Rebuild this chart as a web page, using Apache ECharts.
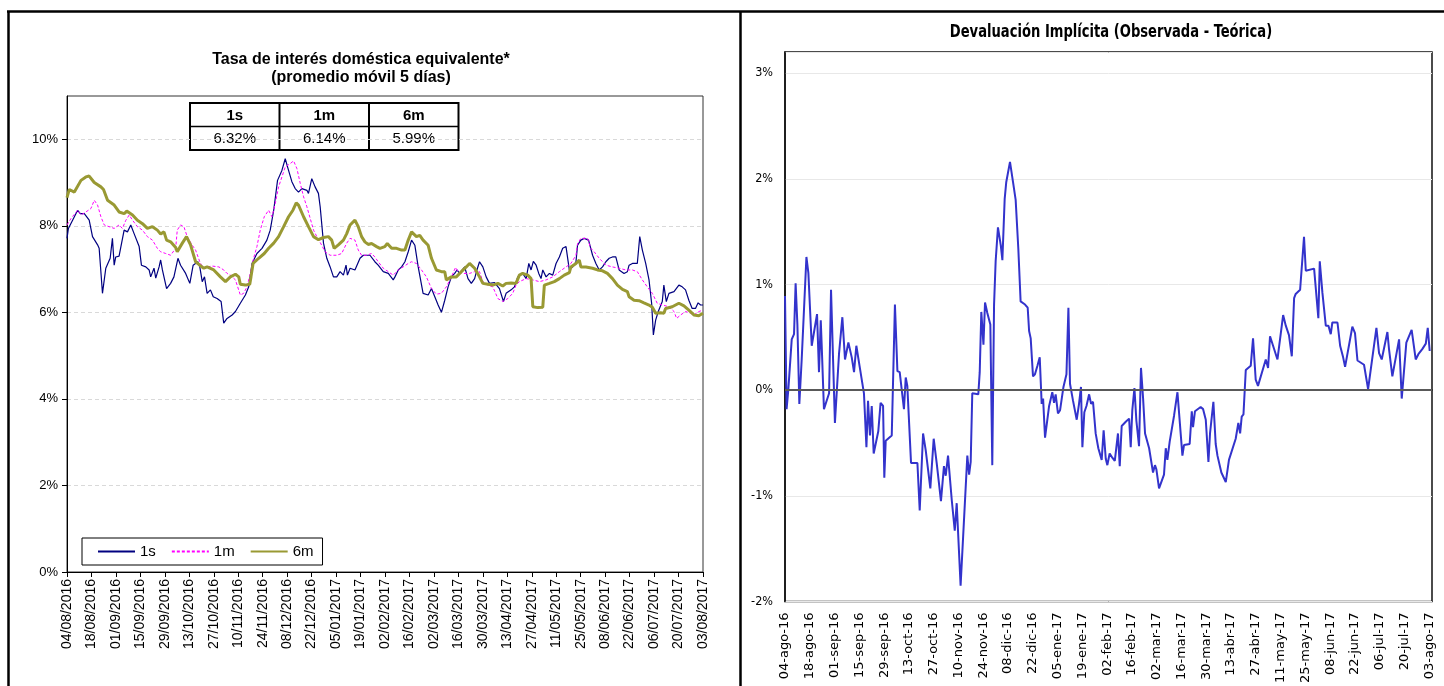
<!DOCTYPE html>
<html>
<head>
<meta charset="utf-8">
<script src="https://cdn.jsdelivr.net/npm/echarts@6/dist/echarts.min.js"></script>
<style>
html,body{margin:0;padding:0;background:#fff;}
#c{width:1444px;height:686px;}
</style>
</head>
<body>
<div id="c"></div>
<script>
// ---------- Left chart: Tasa de interés doméstica equivalente ----------
// x = days since 04/08/2016, y = rate in %
const leftTickLabels = ['04/08/2016','18/08/2016','01/09/2016','15/09/2016','29/09/2016','13/10/2016','27/10/2016','10/11/2016','24/11/2016','08/12/2016','22/12/2016','05/01/2017','19/01/2017','02/02/2017','16/02/2017','02/03/2017','16/03/2017','30/03/2017','13/04/2017','27/04/2017','11/05/2017','25/05/2017','08/06/2017','22/06/2017','06/07/2017','20/07/2017','03/08/2017'];
const leftYTicks = [0,2,4,6,8,10];

const tableHeaders = ['1s','1m','6m'];
const tableValues = ['6.32%','6.14%','5.99%'];

const d1s = [0,0.8,3.2,6.1,7.6,9.9,12.7,14.6,17.5,18.4,20.3,22.2,24.7,26,27,27.9,29.8,32.7,34.6,36.5,38.4,41.3,42.6,45.1,47,47.9,49.8,50.8,52.7,53.6,54.6,57,59.3,61.2,63.5,65,67.9,70.3,72.2,74.9,76,77.4,78.7,80.2,82.1,83.7,85.9,88.2,89.7,91.6,94.5,96.4,99.2,102.1,104,105.9,108.7,111.6,114.4,116.3,118.3,120.5,123,124.9,126.8,128.7,130.6,132.5,134.4,137.3,138.2,140.1,142,143.9,144.9,146.8,148.7,150.6,152.5,154.4,156.3,158.2,159.7,160.5,162,164.8,165.8,167.7,169.6,173.4,176.2,178.1,179.1,181,183.9,186.7,187.7,189.6,191.5,193.4,195.3,197.2,199.1,201,203.8,206.7,208.6,210.5,212.4,214.3,216.2,218.1,220,221.9,223.2,224.7,227.6,229.5,231.4,233.3,234.6,236.1,238,239.9,241.8,244.7,247.5,249.8,251.3,254.2,256.1,258,260.8,262.8,264.3,265.6,266.9,268.5,270,271.3,272.3,274.2,276.1,278,279.9,281.8,283.7,285.6,287.5,289.4,291.3,292.2,294.1,296,298.5,300.8,302.7,304.6,306.5,308.4,310.3,312.2,314.1,316,318.8,320.7,321.7,323.6,326.4,327.8,329.3,331.2,333.1,334.6,335.6,336.9,338.4,340.7,341.6,343,344.5,347.4,350.2,352.1,354,355.9,357.8,359.7,361.2,362.6,364];
const v1s = [7.71,7.94,8.13,8.36,8.28,8.28,8.13,7.75,7.56,7.48,6.44,7.02,7.25,7.71,7.09,7.28,7.3,7.9,7.86,8.02,7.82,7.52,7.09,7.05,6.98,6.82,7.02,6.79,7.05,7.21,6.98,6.55,6.67,6.82,7.25,7.09,6.9,6.67,7.09,7.17,7.05,6.71,6.82,6.44,6.52,6.36,6.32,6.25,5.75,5.86,5.94,6.02,6.21,6.4,6.59,7.13,7.36,7.48,7.67,7.9,8.36,9.05,9.28,9.55,9.28,9.02,8.86,8.78,8.86,8.82,8.75,9.09,8.9,8.75,8.44,7.6,7.25,7.05,6.82,6.82,6.94,6.86,7.09,6.86,7.02,6.98,6.94,7.25,7.32,7.32,7.17,7.09,7.05,6.94,6.9,6.75,6.82,6.98,7.05,7.17,7.4,7.67,7.55,7.05,6.44,6.4,6.55,6.36,6.17,6.0,6.28,6.59,6.82,6.9,6.98,6.9,7.05,6.78,6.67,6.78,6.98,7.17,7.05,6.82,6.67,6.69,6.55,6.25,6.44,6.52,6.59,6.82,6.9,6.78,7.13,6.98,7.18,7.09,6.9,6.78,6.98,6.82,6.9,6.86,7.13,7.28,7.48,7.52,6.98,7.05,7.17,7.55,7.67,7.71,7.67,7.32,7.13,6.98,7.05,7.17,7.25,7.28,7.28,6.98,6.9,6.94,7.09,7.13,7.13,7.75,7.44,7.13,6.75,6.21,5.48,5.82,6.02,6.25,6.63,6.25,6.44,6.48,6.63,6.59,6.52,6.28,6.09,6.09,6.22,6.17,6.17];

const d1m = [0,2.3,6.1,8,10.8,13.7,15.6,17.5,19.4,21.3,24.1,27,29.8,31.7,33.7,35.6,37.5,40.3,43.2,46,48.9,51.7,53.6,56.5,59.3,62.2,63.1,65,66.9,68.8,71.7,73.6,76,77.9,80.2,83.1,86.9,89.7,91.6,93.5,96.4,99.2,101.1,103,104.9,106.8,108.7,110.6,112.9,115.4,117.3,119.2,121.1,123,124.9,127.8,129.7,131.6,133.5,135.4,137.3,139.2,141.1,143,145.8,147.7,150.6,154.4,157.2,160.1,162,164.8,166.7,168.6,171.5,174.3,176.2,178.1,179.1,181,183.9,186.7,189.6,192.4,195.3,197.2,200,202.9,205.7,208.6,211.4,214.3,217.1,220,222.4,223.8,226.6,230.4,233.3,236.1,238,240.9,243.7,246.6,249.4,252.3,255.1,257,258.9,262.8,266.6,270.4,274.2,278,281.8,285.6,288.4,291.3,292.2,294.1,297.9,299.8,301.7,304.6,308.4,312.2,316,319.8,323.6,326.4,329.3,332.1,335,337.8,340.7,344.5,347.4,348.9,351.2,354,356.9,358.8,361.6,364];
const v1m = [8.02,8.17,8.36,8.25,8.32,8.4,8.59,8.48,8.21,8.02,7.98,7.94,8.02,7.94,8.13,8.25,8.13,7.98,7.9,7.75,7.67,7.48,7.4,7.36,7.32,7.48,7.9,8.02,7.98,7.75,7.55,7.44,7.17,7.02,7.05,7.07,7.05,6.98,6.9,6.86,6.75,6.4,6.44,6.59,6.9,7.25,7.52,7.9,8.21,8.36,8.21,8.52,8.9,9.13,9.36,9.44,9.5,9.32,8.98,8.67,8.44,8.17,7.9,7.75,7.55,7.4,7.32,7.32,7.36,7.6,7.71,7.67,7.44,7.32,7.32,7.36,7.28,7.17,7.17,7.02,6.94,6.86,6.98,7.05,7.13,7.17,7.13,6.98,6.82,6.55,6.42,6.44,6.59,6.82,7.04,6.94,6.9,6.9,6.94,6.94,6.71,6.63,6.59,6.32,6.25,6.32,6.44,6.63,6.71,6.78,6.75,6.71,6.75,6.82,6.94,7.05,7.13,7.32,7.59,7.71,7.71,7.48,7.4,7.25,7.09,7.05,7.02,6.98,6.98,6.94,6.75,6.59,6.44,6.21,6.17,6.13,6.02,5.86,5.94,6.02,5.98,5.94,6.02,6.05];

const d6m = [0,1.3,4.2,8,10.8,12.7,15.6,19.4,20.9,23.2,27,29.8,32.7,34.2,37.5,40.3,43.2,46,48.9,51.7,53.6,55.5,57,59.3,62.2,63.1,66,68.4,70.7,73.6,76,78.3,80.2,84,87.8,90.7,93.5,96.4,98.3,99.2,102,104.6,105.3,106.5,109.7,112.9,115.4,118.3,121.1,124,126.8,129.3,131.2,132.5,135.4,138.2,141.1,143.9,146.8,149.6,151.5,152.9,155.3,158.2,160.1,162,164.8,166.7,168.6,170.5,172.4,174.3,177.2,179.1,181.9,183.3,185.8,188.6,191.5,193.4,195.3,197.2,200,201.9,203.8,206.7,208.6,211.4,214.3,216.2,217.1,220,222.8,225.7,228.5,230.4,233.3,236.1,238,240.9,243.7,246.6,249.4,251.3,254.2,257,258.9,260.8,263.7,265.6,266.6,269.4,272.3,273.2,276.1,278.9,281.8,284.6,287.5,288.4,291.3,293.2,294.1,297,300.8,303.6,306.5,309.3,312.2,315,317.9,320.7,321.7,324.5,327.4,330.2,333.1,335,336.9,339.7,341.6,342.6,346.4,350.2,353.1,355.9,358.8,361.6,364];
const v6m = [8.65,8.84,8.78,9.05,9.13,9.15,9.0,8.9,8.84,8.59,8.48,8.32,8.28,8.34,8.25,8.13,8.05,7.94,7.98,7.9,7.81,7.86,7.67,7.63,7.5,7.4,7.6,7.75,7.56,7.17,7.09,7.02,7.05,6.98,6.82,6.71,6.82,6.88,6.82,6.65,6.63,6.65,6.82,7.13,7.25,7.36,7.48,7.6,7.75,7.98,8.21,8.36,8.53,8.48,8.21,7.98,7.75,7.68,7.73,7.75,7.67,7.48,7.56,7.67,7.82,8.02,8.13,7.98,7.75,7.63,7.57,7.59,7.52,7.48,7.52,7.59,7.48,7.48,7.44,7.44,7.67,7.86,7.75,7.78,7.67,7.55,7.25,6.98,6.94,6.94,6.75,6.82,6.82,6.94,7.05,7.13,7.02,6.82,6.67,6.65,6.63,6.67,6.61,6.67,6.68,6.67,6.86,6.9,6.86,6.78,6.13,6.11,6.12,6.63,6.67,6.71,6.78,6.86,6.92,7.05,7.13,7.21,7.05,7.05,7.02,6.98,6.96,6.9,6.78,6.63,6.53,6.48,6.36,6.28,6.27,6.22,6.17,6.12,5.98,5.99,5.98,6.09,6.13,6.21,6.15,6.05,5.94,5.92,5.98];

// ---------- Right chart: Devaluación Implícita ----------
const rightTickLabels = ['04-ago-16','18-ago-16','01-sep-16','15-sep-16','29-sep-16','13-oct-16','27-oct-16','10-nov-16','24-nov-16','08-dic-16','22-dic-16','05-ene-17','19-ene-17','02-feb-17','16-feb-17','02-mar-17','16-mar-17','30-mar-17','13-abr-17','27-abr-17','11-may-17','25-may-17','08-jun-17','22-jun-17','06-jul-17','20-jul-17','03-ago-17'];
const rightYTicks = [-2,-1,0,1,2,3];

const dDev = [0,0.9,1.9,3.8,5.1,6,7,8.1,9.4,12.1,13.2,15.1,16.4,18.1,19.2,20.2,20.7,22,24.9,26,28.2,30.5,32.4,33.1,33.9,35.8,37.7,39,40.3,41.4,42.2,43.1,44.6,46,46.9,48,49,50.1,52.7,54,55.4,56.1,56.9,60.3,62.1,63.5,64.8,67.2,68.2,69.1,71.2,74.8,76.1,78,79.5,82.1,84,85.7,88.1,89.8,90.8,92.1,94.2,95.9,97,99.2,103,104,104.9,105.8,109.2,110,110.9,112.1,113,114.3,116,117.1,118.1,119,120.3,121.9,122.8,124.1,125,127.1,128.8,130.3,131.8,133.1,134.1,135.6,137.1,137.9,138.8,140.1,141.2,142.6,143.9,145,145.8,146.9,149.2,151,152,152.9,154.2,155.4,157.3,159,160.1,161,162.7,164.8,166.1,167.2,168,169.1,170.3,171.8,172.9,174,175.5,177,178.9,180,181.2,182.1,183.4,184.9,186.3,188.1,189.1,190.2,192.5,194.4,195.3,196.2,197.4,198.5,200,201.1,202.3,203.4,204.3,205.7,207.9,209,209.8,211.3,214.1,215.1,216,217.3,218.3,219.8,221.7,222.6,224.5,225.4,228.6,229.8,230.5,231.6,234.8,236.2,237.7,238.6,239.2,240.1,242,243.3,244.3,245.2,246.5,249,250.8,254.6,256.1,257.1,258,259,260.3,263.1,264.4,265.9,267.2,271.6,272.9,274,278.2,281.4,282.9,284.7,286.3,287.6,288.5,291,293.2,294.2,298.9,301.3,302.1,303.6,305.5,307,308.3,309.2,312.1,313.6,315.3,316.4,320.5,322,323.4,327.1,329.4,334.1,335.6,337.1,340.3,341.2,343.1,346.9,348.4,351,354,356.3,357.8,360.1,362,363.1,364.2];
const vDev = [0.89,-0.18,0.01,0.48,0.53,1.01,0.62,-0.13,0.28,1.26,1.11,0.42,0.55,0.72,0.17,0.66,0.44,-0.18,-0.03,0.95,-0.31,0.34,0.69,0.69,0.29,0.45,0.31,0.17,0.42,0.41,0.22,0.22,-0.03,-0.54,-0.1,-0.43,-0.15,-0.6,-0.39,-0.12,-0.15,-0.83,-0.48,-0.43,0.81,0.18,0.17,-0.18,0.12,0.04,-0.69,-0.69,-1.14,-0.41,-0.57,-0.93,-0.46,-0.69,-1.05,-0.72,-0.81,-0.62,-1.04,-1.33,-1.07,-1.85,-0.62,-0.8,-0.68,-0.03,-0.04,0.17,0.74,0.43,0.83,0.73,0.62,-0.71,0.81,1.22,1.54,1.37,1.23,1.81,1.97,2.16,1.97,1.8,1.34,0.84,0.85,0.81,0.78,0.56,0.49,0.13,0.15,0.23,0.31,-0.13,-0.08,-0.45,-0.15,-0.02,-0.12,-0.04,-0.22,-0.19,0.03,0.15,0.78,0.06,-0.1,-0.28,-0.13,0.03,-0.54,-0.21,-0.15,-0.04,-0.13,-0.11,-0.41,-0.55,-0.66,-0.38,-0.65,-0.71,-0.6,-0.64,-0.67,-0.41,-0.72,-0.34,-0.3,-0.27,-0.54,-0.19,0.02,-0.29,-0.53,0.21,-0.08,-0.41,-0.42,-0.55,-0.78,-0.71,-0.75,-0.93,-0.8,-0.55,-0.66,-0.49,-0.48,-0.24,-0.02,-0.01,-0.62,-0.52,-0.51,-0.2,-0.35,-0.2,-0.16,-0.18,-0.28,-0.27,-0.68,-0.41,-0.11,-0.51,-0.62,-0.61,-0.78,-0.87,-0.66,-0.46,-0.31,-0.41,-0.25,-0.23,0.19,0.23,0.49,0.1,0.04,0.29,0.21,0.51,0.29,0.71,0.61,0.52,0.32,0.87,0.91,0.95,1.45,1.13,1.15,0.68,1.22,0.92,0.61,0.61,0.53,0.64,0.64,0.42,0.31,0.22,0.6,0.54,0.28,0.24,0.01,0.59,0.35,0.29,0.55,0.39,0.13,0.48,-0.08,0.45,0.57,0.29,0.34,0.39,0.44,0.59,0.37];

// ---------- Build ----------
const pair = (d, v) => d.map((x, i) => [x, v[i]]);
const ARIAL = "'Liberation Sans', Arial, sans-serif";
const NARROW = "'Liberation Sans Narrow', 'DejaVu Sans Condensed', sans-serif";

const chart = echarts.init(document.getElementById('c'), null, {renderer: 'canvas'});

// table graphic (layout only; texts come from arrays)
const tX = 190, tY = 103, cW = 89.5, rH = 23.5;
const tableEls = [
  {type: 'rect', shape: {x: tX, y: tY, width: cW * 3, height: rH * 2}, style: {fill: '#fff', stroke: '#000', lineWidth: 2}},
  {type: 'line', shape: {x1: tX, y1: tY + rH, x2: tX + cW * 3, y2: tY + rH}, style: {stroke: '#000', lineWidth: 1.5}},
  {type: 'line', shape: {x1: tX + cW, y1: tY, x2: tX + cW, y2: tY + rH * 2}, style: {stroke: '#000', lineWidth: 2}},
  {type: 'line', shape: {x1: tX + cW * 2, y1: tY, x2: tX + cW * 2, y2: tY + rH * 2}, style: {stroke: '#000', lineWidth: 2}}
];
tableHeaders.forEach((h, i) => tableEls.push({type: 'text', style: {x: tX + cW * i + cW / 2, y: tY + rH / 2 + 1, text: h, textAlign: 'center', textVerticalAlign: 'middle', font: 'bold 15px ' + ARIAL, fill: '#000'}}));
tableValues.forEach((h, i) => tableEls.push({type: 'text', style: {x: tX + cW * i + cW / 2, y: tY + rH * 1.5 + 1, text: h, textAlign: 'center', textVerticalAlign: 'middle', font: '15px ' + ARIAL, fill: '#000'}}));

const option = {
  backgroundColor: '#fff',
  animation: false,
  graphic: [
    // panel frames
    {type: 'line', z: 100, shape: {x1: 7, y1: 11.5, x2: 1444, y2: 11.5}, style: {stroke: '#000', lineWidth: 2.5}},
    {type: 'line', z: 100, shape: {x1: 8.5, y1: 11, x2: 8.5, y2: 686}, style: {stroke: '#000', lineWidth: 2.5}},
    {type: 'line', z: 100, shape: {x1: 740.5, y1: 11, x2: 740.5, y2: 686}, style: {stroke: '#000', lineWidth: 2.5}},
    // titles
    {type: 'text', z: 100, style: {x: 361, y: 60, text: 'Tasa de interés doméstica equivalente*', textAlign: 'center', textVerticalAlign: 'middle', font: 'bold 16px ' + ARIAL, fill: '#000'}},
    {type: 'text', z: 100, style: {x: 361, y: 78, text: '(promedio móvil 5 días)', textAlign: 'center', textVerticalAlign: 'middle', font: 'bold 16px ' + ARIAL, fill: '#000'}},
    {type: 'text', z: 100, x: 1111, y: 32, scaleX: 0.81, scaleY: 1,
     style: {x: 0, y: 0, text: 'Devaluación Implícita (Observada - Teórica)', textAlign: 'center', textVerticalAlign: 'middle', font: 'bold 18px ' + NARROW, fill: '#000'}},
    {type: 'group', z: 100, children: tableEls}
  ],
  legend: {
    data: ['1s', '1m', '6m'],
    left: 82, top: 538,
    itemWidth: 37, itemHeight: 14, itemGap: 15,
    padding: [6, 9, 6, 15],
    borderColor: '#000', borderWidth: 1, backgroundColor: '#fff',
    itemStyle: {opacity: 0},
    textStyle: {fontSize: 15, fontFamily: ARIAL, color: '#000'}
  },
  grid: [
    {left: 67, top: 96, width: 636, height: 476, show: true, borderColor: '#333', borderWidth: 1, containLabel: false},
    {left: 785, top: 52, width: 647, height: 554, show: true, borderColor: '#111', borderWidth: 1.5, containLabel: false}
  ],
  xAxis: [
    {type: 'value', gridIndex: 0, min: 0, max: 364, interval: 14,
     axisLine: {show: true, lineStyle: {color: '#000', width: 1}},
     axisTick: {show: true, inside: false, length: 5, lineStyle: {color: '#000'}},
     splitLine: {show: false},
     axisLabel: {rotate: 90, margin: 7, fontSize: 14, fontFamily: ARIAL, color: '#000',
       formatter: v => (v % 14 === 0 && leftTickLabels[v / 14] !== undefined) ? leftTickLabels[v / 14] : ''}},
    {type: 'value', gridIndex: 1, min: 0, max: 365.5, interval: 14,
     axisLine: {show: true, lineStyle: {color: '#111', width: 1.5}},
     axisTick: {show: false},
     splitLine: {show: false},
     axisLabel: {rotate: 90, margin: 11, fontSize: 13, fontFamily: "'DejaVu Sans', Verdana, sans-serif", color: '#000',
       formatter: v => (v % 14 === 0 && rightTickLabels[v / 14] !== undefined) ? rightTickLabels[v / 14] : ''}}
  ],
  yAxis: [
    {type: 'value', gridIndex: 0, min: 0, max: 11, interval: 2,
     axisLine: {show: true, lineStyle: {color: '#000', width: 1}},
     axisTick: {show: true, inside: false, length: 5, lineStyle: {color: '#000'}, customValues: leftYTicks},
     splitLine: {show: true, lineStyle: {color: '#D9D9D9', type: [4, 3], width: 1}},
     axisLabel: {margin: 9, fontSize: 13, fontFamily: ARIAL, color: '#000',
       formatter: v => leftYTicks.includes(v) ? v + '%' : ''}},
    {type: 'value', gridIndex: 1, min: -2, max: 3.2, interval: 1,
     axisLine: {show: true, lineStyle: {color: '#111', width: 1.5}},
     axisTick: {show: false},
     splitLine: {show: true, lineStyle: {color: '#E8E8E8', width: 1}},
     axisLabel: {margin: 12, fontSize: 12.5, fontFamily: NARROW, color: '#000',
       formatter: v => rightYTicks.includes(Math.round(v * 1000) / 1000) && Math.abs(v - Math.round(v)) < 1e-6 ? Math.round(v) + '%' : ''}}
  ],
  series: [
    {name: '1s', type: 'line', xAxisIndex: 0, yAxisIndex: 0, data: pair(d1s, v1s), symbol: 'none',
     lineStyle: {color: '#000080', width: 1.2}, itemStyle: {color: '#000080'}},
    {name: '1m', type: 'line', xAxisIndex: 0, yAxisIndex: 0, data: pair(d1m, v1m), symbol: 'none',
     lineStyle: {color: '#FF00FF', width: 1, type: [3, 2]}, itemStyle: {color: '#FF00FF'}},
    {name: '6m', type: 'line', xAxisIndex: 0, yAxisIndex: 0, data: pair(d6m, v6m), symbol: 'none',
     lineStyle: {color: '#999933', width: 3}, itemStyle: {color: '#999933'}},
    {name: 'Devaluación', type: 'line', xAxisIndex: 1, yAxisIndex: 1, data: pair(dDev, vDev), symbol: 'none',
     lineStyle: {color: '#3333CC', width: 2}, itemStyle: {color: '#3333CC'},
     markLine: {silent: true, symbol: ['none', 'none'], label: {show: false},
       lineStyle: {color: '#595959', width: 2, type: 'solid'}, data: [{yAxis: 0}]}}
  ]
};
chart.setOption(option);
</script>
</body>
</html>
